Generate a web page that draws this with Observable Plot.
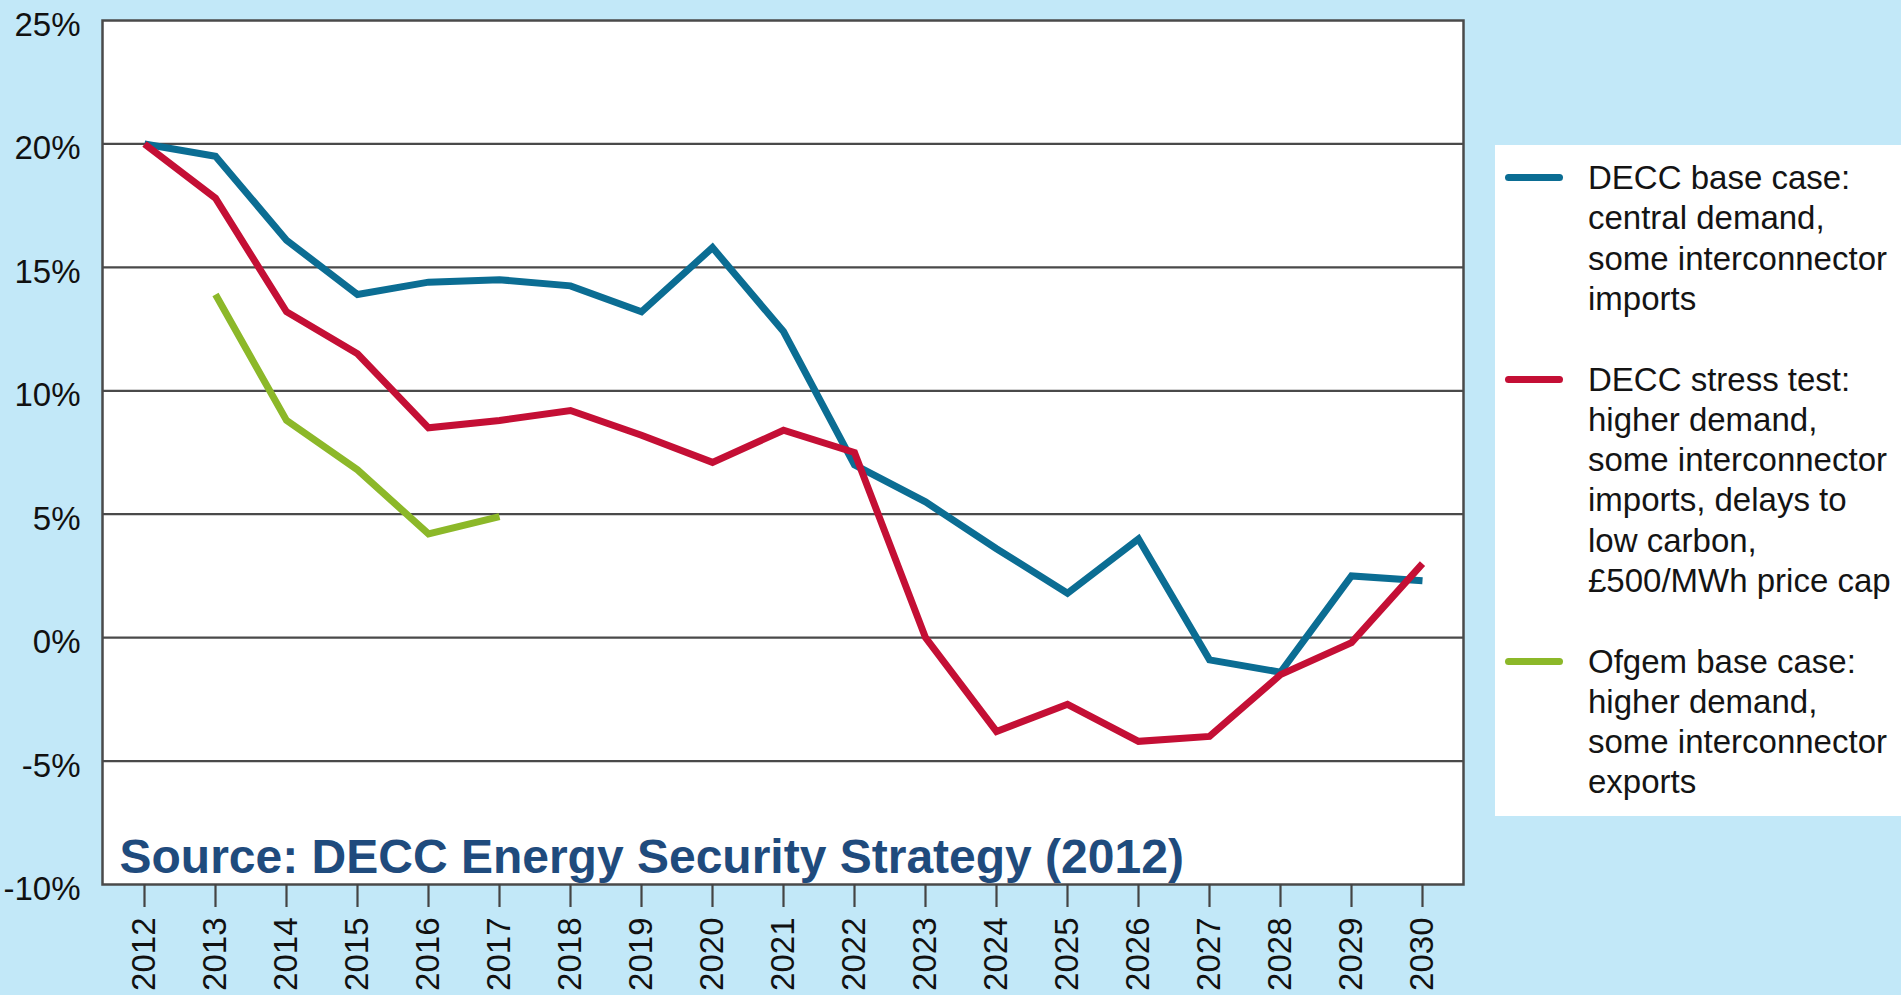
<!DOCTYPE html>
<html><head><meta charset="utf-8">
<script src="https://cdn.jsdelivr.net/npm/d3@7"></script>
<script src="https://cdn.jsdelivr.net/npm/@observablehq/plot@0.6"></script>
<style>
html,body{margin:0;padding:0;background:#c2e8f8;}
#wrap{position:relative;width:1901px;height:995px;overflow:hidden;font-family:"Liberation Sans",Arial,sans-serif;background:#c2e8f8;}
#legend{position:absolute;left:1495px;top:145px;width:406px;height:671px;background:#fff;}
.sw{position:absolute;left:10px;width:58px;height:7px;border-radius:4px;}
.tx{position:absolute;left:93px;font-size:33px;line-height:40.3px;color:#141414;white-space:nowrap;}
</style></head>
<body><div id="wrap"></div>
<script>
const years = [2012,2013,2014,2015,2016,2017,2018,2019,2020,2021,2022,2023,2024,2025,2026,2027,2028,2029,2030];
const deccBase   = [20.0,19.5,16.1,13.9,14.4,14.5,14.25,13.2,15.8,12.4,7.0,5.5,3.6,1.8,4.0,-0.9,-1.4,2.5,2.3];
const deccStress = [20.0,17.8,13.2,11.5,8.5,8.8,9.2,8.2,7.1,8.4,7.5,0.0,-3.8,-2.7,-4.2,-4.0,-1.5,-0.2,3.0];
const ofgemYears = [2013,2014,2015,2016,2017];
const ofgemBase  = [13.9,8.8,6.8,4.2,4.9];
const yTicks = [-10,-5,0,5,10,15,20,25];
const gridValues = [-5,0,5,10,15,20];
const seriesNames = ["DECC base case", "DECC stress test", "Ofgem base case"];
const seriesColors = ["#0b6d93", "#c40f35", "#8cb829"];
const legendLines = [
  ["DECC base case:", "central demand,", "some interconnector", "imports"],
  ["DECC stress test:", "higher demand,", "some interconnector", "imports, delays to", "low carbon,", "£500/MWh price cap"],
  ["Ofgem base case:", "higher demand,", "some interconnector", "exports"]
];
const sourceText = "Source: DECC Energy Security Strategy (2012)";

const rows = [];
years.forEach((y, i) => rows.push({year: y, value: deccBase[i], series: seriesNames[0]}));
years.forEach((y, i) => rows.push({year: y, value: deccStress[i], series: seriesNames[1]}));
ofgemYears.forEach((y, i) => rows.push({year: y, value: ofgemBase[i], series: seriesNames[2]}));

const font = '"Liberation Sans", Arial, sans-serif';

const chart = Plot.plot({
  width: 1901,
  height: 995,
  marginLeft: 102,
  marginRight: 438,
  marginTop: 20,
  marginBottom: 111,
  style: {background: "#c2e8f8", fontFamily: font, color: "#111"},
  x: {type: "point", domain: years, padding: 0.5, label: null},
  y: {domain: [-10, 25], label: null},
  color: {domain: seriesNames, range: seriesColors},
  marks: [
    Plot.frame({fill: "white", stroke: null}),
    Plot.ruleY(gridValues, {stroke: "#4a4a4a", strokeWidth: 2.2}),
    Plot.frame({stroke: "#4a4a4a", strokeWidth: 2.5}),
    Plot.axisX({
      label: null,
      tickRotate: -90, tickSize: 23, tickPadding: 10, fontSize: 33,
      stroke: "#444", strokeWidth: 2.2, fill: "#111",
      tickFormat: d => `${d}`
    }),
    Plot.axisY({
      label: null,
      ticks: yTicks, tickSize: 0, tickPadding: 22, fontSize: 33, fill: "#111",
      dy: 5,
      tickFormat: d => `${d}%`
    }),
    Plot.line(rows, {
      x: "year", y: "value", z: "series", stroke: "series",
      strokeWidth: 7, strokeLinejoin: "miter", strokeMiterlimit: 4, strokeLinecap: "butt"
    }),
    Plot.text([sourceText], {
      frameAnchor: "bottom-left", dx: 17, dy: -12, lineAnchor: "bottom", textAnchor: "start",
      fontSize: 48, fontWeight: "bold", fill: "#1f4b7d", fontFamily: font
    })
  ]
});

const wrap = document.getElementById("wrap");
wrap.appendChild(chart);

const legend = document.createElement("div");
legend.id = "legend";
const lh = 40.3;
let lineIdx = 0;
legendLines.forEach((lines, k) => {
  const top = 13 + lineIdx * lh;
  const sw = document.createElement("div");
  sw.className = "sw";
  sw.style.background = seriesColors[k];
  sw.style.top = (top + lh / 2 - 4) + "px";
  legend.appendChild(sw);
  const tx = document.createElement("div");
  tx.className = "tx";
  tx.style.top = top + "px";
  tx.innerHTML = lines.map(s => s.replace(/&/g, "&amp;").replace(/</g, "&lt;")).join("<br>");
  legend.appendChild(tx);
  lineIdx += lines.length + 1;
});
wrap.appendChild(legend);
</script>
</body></html>
